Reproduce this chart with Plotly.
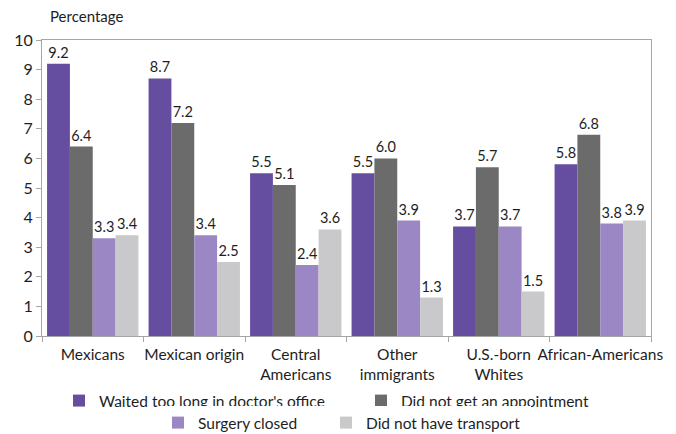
import plotly.graph_objects as go

categories = ["Mexicans", "Mexican origin", "Central<br>Americans", "Other<br>immigrants",
              "U.S.-born<br>Whites", "African-Americans"]
waited = [9.2, 8.7, 5.5, 5.5, 3.7, 5.8]
no_appointment = [6.4, 7.2, 5.1, 6.0, 5.7, 6.8]
surgery_closed = [3.3, 3.4, 2.4, 3.9, 3.7, 3.8]
no_transport = [3.4, 2.5, 3.6, 1.3, 1.5, 3.9]
y_ticks = list(range(0, 11))

series = [
    ("Waited too long in doctor's office", waited, "#654ea0", "legend", 257),
    ("Did not get an appointment", no_appointment, "#6b6b6b", "legend", 200),
    ("Surgery closed", surgery_closed, "#9a87c4", "legend2", 123),
    ("Did not have transport", no_transport, "#c9c9cb", "legend2", 160),
]

FONT = "Lato, Open Sans, sans-serif"
TXT = "#1e1e1e"
fig = go.Figure()
for name, vals, color, lg, lw in series:
    fig.add_trace(go.Bar(
        x=categories, y=vals, name=name, marker_color=color, marker_line_width=0,
        text=[f"{v:.1f}" for v in vals], textposition="outside", cliponaxis=False,
        textfont=dict(size=14.5, color=TXT, family=FONT), legend=lg, legendwidth=lw,
    ))

# page body adds an 8px offset; figure is sized to fill the remaining window
fig.update_layout(
    width=668, height=426,
    margin=dict(l=34, r=25, t=32, b=98, autoexpand=False),
    barmode="group", bargap=0.1, bargroupgap=0,
    plot_bgcolor="white", paper_bgcolor="white",
    font=dict(family=FONT, size=15.5, color=TXT),
    legend=dict(orientation="h", x=0.0279, xanchor="left", y=-0.2196, yanchor="middle",
                font=dict(size=15.5), itemwidth=30, traceorder="normal"),
    legend2=dict(orientation="h", x=0.1905, xanchor="left", y=-0.294, yanchor="middle",
                 font=dict(size=15.5), itemwidth=30, traceorder="normal"),
    annotations=[dict(text="Percentage", x=0.01, xref="paper", y=1.081, yref="paper",
                      xanchor="left", yanchor="middle", showarrow=False,
                      font=dict(size=15, color=TXT, family=FONT))],
)
fig.update_yaxes(range=[0, 10], tickvals=y_ticks, showgrid=False, zeroline=False,
                 showline=True, linecolor="#a6a6a6", linewidth=1, mirror=True,
                 ticks="outside", ticklen=5, tickcolor="#a6a6a6",
                 tickfont=dict(size=16), automargin=False)
fig.update_xaxes(showgrid=False, showline=True, linecolor="#a6a6a6", linewidth=1,
                 mirror=True, ticks="outside", ticklen=5, tickcolor="#a6a6a6",
                 tickson="boundaries", tickangle=0, tickfont=dict(size=15.5),
                 ticklabelstandoff=4, automargin=False)

fig.write_html("out.html")
